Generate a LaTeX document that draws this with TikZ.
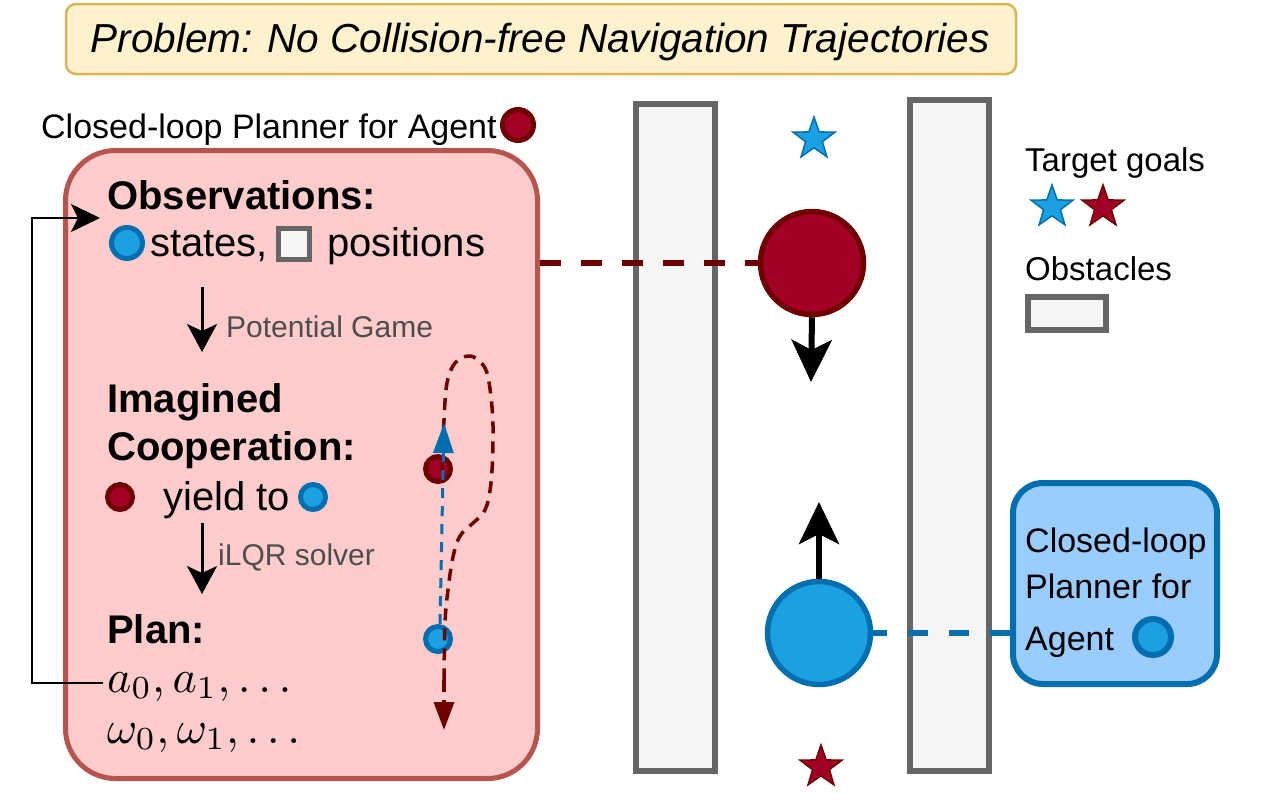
\documentclass[tikz,border=0pt]{standalone}
\usepackage{fontspec}
\setmainfont{Liberation Sans}
\usetikzlibrary{arrows.meta,shapes.geometric}
\definecolor{pinkfill}{HTML}{FFCCCC}
\definecolor{pinkline}{HTML}{B85450}
\definecolor{yelfill}{HTML}{FFF2CC}
\definecolor{yelline}{HTML}{D6B656}
\definecolor{redfill}{HTML}{A20025}
\definecolor{redline}{HTML}{6F0000}
\definecolor{bluefill}{HTML}{1BA1E2}
\definecolor{blueline}{HTML}{006EAF}
\definecolor{boxblue}{HTML}{99CCFF}
\definecolor{obsfill}{HTML}{F5F5F5}
\definecolor{obsline}{HTML}{666666}
\definecolor{labgray}{HTML}{4D4D4D}
\newcommand\FontBig{\fontsize{40}{48}\selectfont}
\newcommand\FontTitle{\fontsize{40.5}{48}\selectfont}
\newcommand\FontMid{\fontsize{34}{40}\selectfont}
\newcommand\FontLeg{\fontsize{33}{40}\selectfont}
\newcommand\FontLab{\fontsize{30}{36}\selectfont}
\tikzset{
  txt/.style={inner sep=0pt, anchor=base west},
  redagent/.style={circle, draw=redline, fill=redfill, inner sep=0pt},
  blueagent/.style={circle, draw=blueline, fill=bluefill, inner sep=0pt},
  obstacle/.style={draw=obsline, fill=obsfill, line width=6pt},
  goalstar/.style={star, star points=5, star point ratio=2.5, inner sep=0pt, minimum size=44pt, line width=1.5pt},
  flowarrow/.style={line width=3pt, -{Stealth[length=28pt,width=30pt,inset=7pt]}},
  motion/.style={line width=6pt, -{Stealth[length=42pt,width=40pt,inset=10pt]}},
  feedback/.style={line width=2pt, -{Stealth[length=29pt,width=28pt,inset=7pt]}},
  redtraj/.style={draw=redline, line width=3.5pt, dash pattern=on 12pt off 8pt},
  bluetraj/.style={draw=blueline, line width=3pt, dash pattern=on 10pt off 8pt},
}
\begin{document}
\begin{tikzpicture}[x=1pt,y=-1pt]
\useasboundingbox (0,0) rectangle (1280,807);
\fill[white] (0,0) rectangle (1280,807);

% title
\node[draw=yelline, fill=yelfill, line width=2.5pt, rounded corners=10pt,
  minimum width=950pt, minimum height=70pt, inner sep=0pt] (titlebox) at (541,39) {};
\node[inner sep=0pt, anchor=base] (title) at (540,52) {\FontTitle\itshape Problem: No Collision-free Navigation Trajectories};

% left planner
\node[txt] (plannerlabel) at (41,138) {\FontMid Closed-loop Planner for Agent};
\node[redagent, line width=5pt, minimum size=31pt] (redlegend) at (518,125) {};

\node[draw=pinkline, fill=pinkfill, line width=5pt, rounded corners=50pt,
  minimum width=472pt, minimum height=628pt, inner sep=0pt] (planbox) at (301.5,464.5) {};

\node[txt] (obs) at (107,209) {\FontBig\bfseries Observations:};
\node[blueagent, line width=5pt, minimum size=31pt] (obsblue) at (127,243) {};
\node[txt] (states) at (150,256) {\FontBig states,};
\node[draw=obsline, fill=obsfill, line width=5pt, minimum size=31pt, inner sep=0pt] (obssquare) at (294,244) {};
\node[txt] (positions) at (327,256) {\FontBig positions};

\coordinate (a1s) at (202,287);
\coordinate (a1e) at (202,352);
\draw[flowarrow] (a1s) -- (a1e);
\node[txt, text=labgray] (pg) at (226,337) {\FontLab Potential Game};

\node[txt] (imag) at (107,412) {\FontBig\bfseries Imagined};
\node[txt] (coop) at (107,460) {\FontBig\bfseries Cooperation:};
\node[redagent, line width=5pt, minimum size=25pt] (yieldred) at (120,497) {};
\node[txt] (yield) at (163,510) {\FontBig yield to};
\node[blueagent, line width=5pt, minimum size=25pt] (yieldblue) at (313,497) {};

\coordinate (a2s) at (202,523);
\coordinate (a2e) at (202,594);
\draw[flowarrow] (a2s) -- (a2e);
\node[txt, text=labgray] (ilqr) at (218,565) {\FontLab iLQR solver};

\node[txt] (plan) at (107,643) {\FontBig\bfseries Plan:};
\node[txt] (acts) at (107,692) {\scalebox{4.6}{$a_0, a_1, \ldots$}};
\node[txt] (omegas) at (107,743) {\scalebox{4.6}{$\omega_0, \omega_1, \ldots$}};

% feedback loop
\coordinate (fbA) at (103,683);
\coordinate (fbB) at (100,218);
\draw[feedback] (fbA) -- (32,683) |- (fbB);

% imagined trajectories
\node[redagent, line width=5pt, minimum size=25pt] (trred) at (438,469) {};
\node[blueagent, line width=5pt, minimum size=25pt] (trblue) at (438,639) {};
\draw[redtraj] plot[smooth, tension=0.6] coordinates {(442,470) (444,420) (447,383) (455,363) (468,356) (478,360) (487,373) (492,407) (493,440) (491,483) (485,510) (472,524) (460,536) (453,557) (448,590) (445,623) (444,680)};
\coordinate (redtip) at (444,730);
\draw[redtraj, -{Triangle[length=28pt,width=20pt]}] (444,680) -- (redtip);
\coordinate (bluetip) at (444,423);
\coordinate (bluestart) at (440,624);
\draw[bluetraj, -{Triangle[length=30pt,width=20pt]}] (bluestart) -- (bluetip);

% obstacles
\draw[obstacle] (636,104) rectangle (715,771);
\draw[obstacle] (910,100) rectangle (989,771);

% agents
\node[goalstar, draw=blueline, fill=bluefill] (bluegoal) at (814,139) {};
\node[goalstar, draw=redline, fill=redfill] (redgoal) at (821,767) {};
\node[redagent, line width=5.5pt, minimum size=103pt] (redbig) at (812,263) {};
\node[blueagent, line width=5.5pt, minimum size=103pt] (bluebig) at (819,633) {};
\coordinate (redmove) at (811,382);
\coordinate (bluemove) at (819,502);
\draw[motion] (redbig.south) -- (redmove);
\draw[motion] (bluebig.north) -- (bluemove);

% blue planner box
\node[draw=blueline, fill=boxblue, line width=6pt, rounded corners=30pt,
  minimum width=204pt, minimum height=201pt, inner sep=0pt] (bluebox) at (1115,583.5) {};
\node[txt] (bb1) at (1025,552) {\FontMid Closed-loop};
\node[txt] (bb2) at (1025,598) {\FontMid Planner for};
\node[txt] (bb3) at (1025,650) {\FontMid Agent};
\node[blueagent, line width=6pt, minimum size=36pt] (bbcircle) at (1153,637) {};

% connectors
\draw[redline, line width=6pt, dash pattern=on 21pt off 20pt] (planbox.east |- redbig.west) -- (redbig.west);
\draw[blueline, line width=6pt, dash pattern=on 20pt off 21pt] (bluebox.west |- bluebig.east) -- (bluebig.east);

% legend
\node[txt] (tg) at (1025,171) {\FontLeg Target goals};
\node[goalstar, draw=blueline, fill=bluefill] (legblue) at (1052,207) {};
\node[goalstar, draw=redline, fill=redfill] (legred) at (1103,207) {};
\node[txt] (obsleg) at (1025,280) {\FontLeg Obstacles};
\draw[obstacle] (1028,297) rectangle (1106,330);
\end{tikzpicture}
\end{document}
